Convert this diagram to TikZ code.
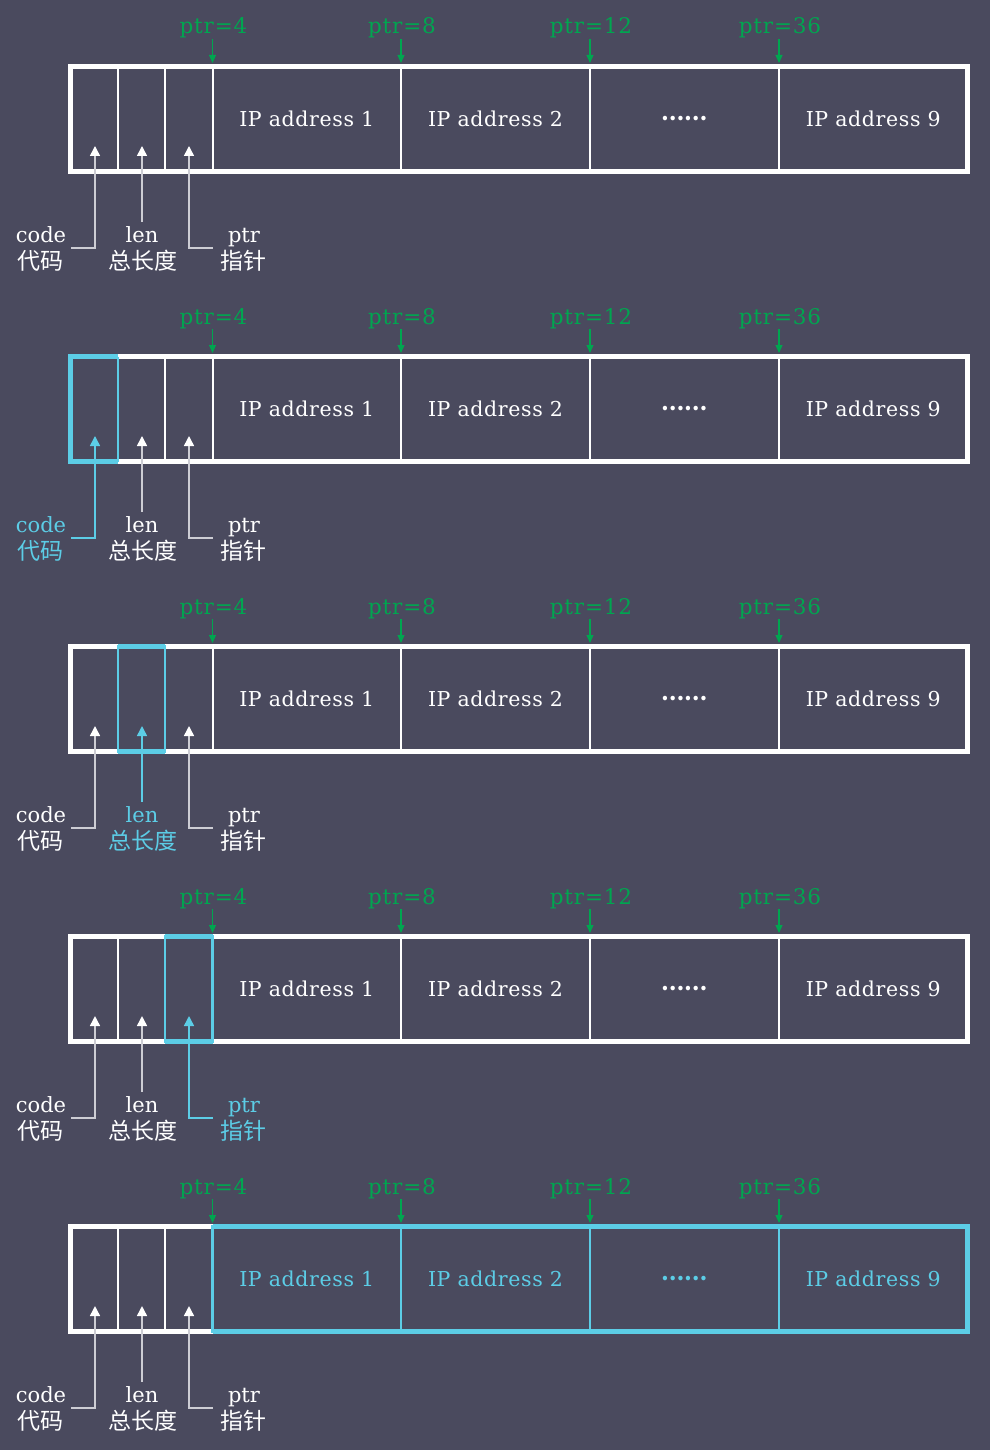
\documentclass[tikz,border=0pt]{standalone}
\usepackage{fontspec}
\setmainfont{DejaVu Serif}[LetterSpace=3]
\newfontfamily\gfont{DejaVu Serif}[LetterSpace=4]
\newfontfamily\lfont{DejaVu Serif}
\newfontfamily\cjk{Noto Sans CJK SC}
\usetikzlibrary{arrows.meta}
\definecolor{bg}{RGB}{74,74,94}
\definecolor{hl}{RGB}{92,205,230}
\definecolor{grn}{RGB}{0,166,80}
\definecolor{lnk}{RGB}{205,205,212}
\begin{document}
\begin{tikzpicture}[x=1pt,y=-1pt,
  cell/.style={draw=white,line width=2pt,inner sep=0pt,outer sep=0pt,minimum height=105pt,font=\fontsize{20.5}{24}\selectfont},
  outer/.style={draw=white,line width=4.5pt},
  hlthin/.style={draw=hl,line width=2.5pt},
  hlthick/.style={draw=hl,line width=4.5pt},
  lbl/.style={font=\lfont\fontsize{21}{24}\selectfont,inner sep=0pt,anchor=base},
  cjklbl/.style={font=\cjk\fontsize{23}{24}\selectfont,inner sep=0pt},
  glbl/.style={font=\gfont\fontsize{21.5}{24}\selectfont,text=grn,inner sep=0pt,anchor=base},
  garrow/.style={draw=grn,line width=1.2pt,-{Triangle[width=7pt,length=8pt]}},
  conn/.style={line width=1.5pt}
]
\fill[bg] (0,0) rectangle (990,1450);
\useasboundingbox (0,0) rectangle (990,1450);
\foreach \k in {0,...,4}{
  \pgfmathsetmacro\dy{290*\k}
  \ifnum\k=1 \def\cA{hl}\def\lA{hl}\def\tA{hl}\else\def\cA{white}\def\lA{lnk}\def\tA{white}\fi
  \ifnum\k=2 \def\cL{hl}\def\lL{hl}\def\tL{hl}\else\def\cL{white}\def\lL{lnk}\def\tL{white}\fi
  \ifnum\k=3 \def\cP{hl}\def\lP{hl}\def\tP{hl}\else\def\cP{white}\def\lP{lnk}\def\tP{white}\fi
  \ifnum\k=4 \def\cB{hl}\else\def\cB{white}\fi
  % cells
  \foreach \i/\xa/\xb/\t in {1/70.5/118/{},2/118/165/{},3/165/212.5/{}}
    \node[cell,minimum width={\xb-\xa}] (c\k-\i) at ({(\xa+\xb)/2},{119+\dy}) {};
  \foreach \i/\xa/\xb/\t in {4/212.5/401/{IP address 1},5/401/590/{IP address 2},6/590/779/{\cjk\bfseries ……},7/779/967.5/{IP address 9}}
    \node[cell,minimum width={\xb-\xa},text=\cB] (c\k-\i) at ({(\xa+\xb)/2},{119+\dy}) {\t};
  \draw[outer] (c\k-1.north west) rectangle (c\k-7.south east);
  % highlights
  \ifcase\k
  \or
    \draw[hlthin] (c1-1.north east) -- (c1-1.south east);
    \draw[hlthick] (c1-1.north east) -- (c1-1.north west) -- (c1-1.south west) -- (c1-1.south east);
  \or
    \draw[hlthin] (c2-2.north west) rectangle (c2-2.south east);
    \draw[hlthick] (c2-2.north west) -- (c2-2.north east);
    \draw[hlthick] (c2-2.south west) -- (c2-2.south east);
  \or
    \draw[hlthin] (c3-3.north west) rectangle (c3-3.south east);
    \draw[hlthick] (c3-3.north west) -- (c3-3.north east);
    \draw[hlthick] (c3-3.south west) -- (c3-3.south east);
  \or
    \foreach \i in {4,...,7}
      \draw[hlthin] (c4-\i.north west) rectangle (c4-\i.south east);
    \draw[hlthick] (c4-4.north west) -- (c4-7.north east) -- (c4-7.south east) -- (c4-4.south west);
  \fi
  % green pointers
  \foreach \j/\x/\v in {1/212.5/4,2/401/8,3/590/12,4/779/36}{
    \node[glbl] (p\k-\j) at (\x+1,{34+\dy}) {ptr=\v};
    \coordinate (g\k-\j) at (\x,{63+\dy});
    \draw[garrow] (p\k-\j.south -| g\k-\j) -- (g\k-\j);
  }
  % labels
  \node[lbl,text=\cA] (code\k) at (41,{242+\dy}) {code};
  \node[cjklbl,text=\cA] (dm\k) at (40.5,{261+\dy}) {代码};
  \node[lbl,text=\cL] (len\k) at (142,{242+\dy}) {len};
  \node[cjklbl,text=\cL] (zcd\k) at (142.5,{261+\dy}) {总长度};
  \node[lbl,text=\cP] (ptr\k) at (244,{242+\dy}) {ptr};
  \node[cjklbl,text=\cP] (zz\k) at (243,{261+\dy}) {指针};
  % connectors
  \coordinate (t\k-1) at (95,{146+\dy});
  \coordinate (t\k-2) at (142,{146+\dy});
  \coordinate (t\k-3) at (189,{146+\dy});
  \coordinate (s\k-1) at (71,{248+\dy});
  \coordinate (s\k-2) at (142,{222+\dy});
  \coordinate (s\k-3) at (212.5,{248+\dy});
  \draw[conn,draw=\lA,-{Triangle[width=10pt,length=10pt,color=\tA]}] (s\k-1) -| (t\k-1);
  \draw[conn,draw=\lL,-{Triangle[width=10pt,length=10pt,color=\tL]}] (s\k-2) -- (t\k-2);
  \draw[conn,draw=\lP,-{Triangle[width=10pt,length=10pt,color=\tP]}] (s\k-3) -| (t\k-3);
}
\end{tikzpicture}
\end{document}
